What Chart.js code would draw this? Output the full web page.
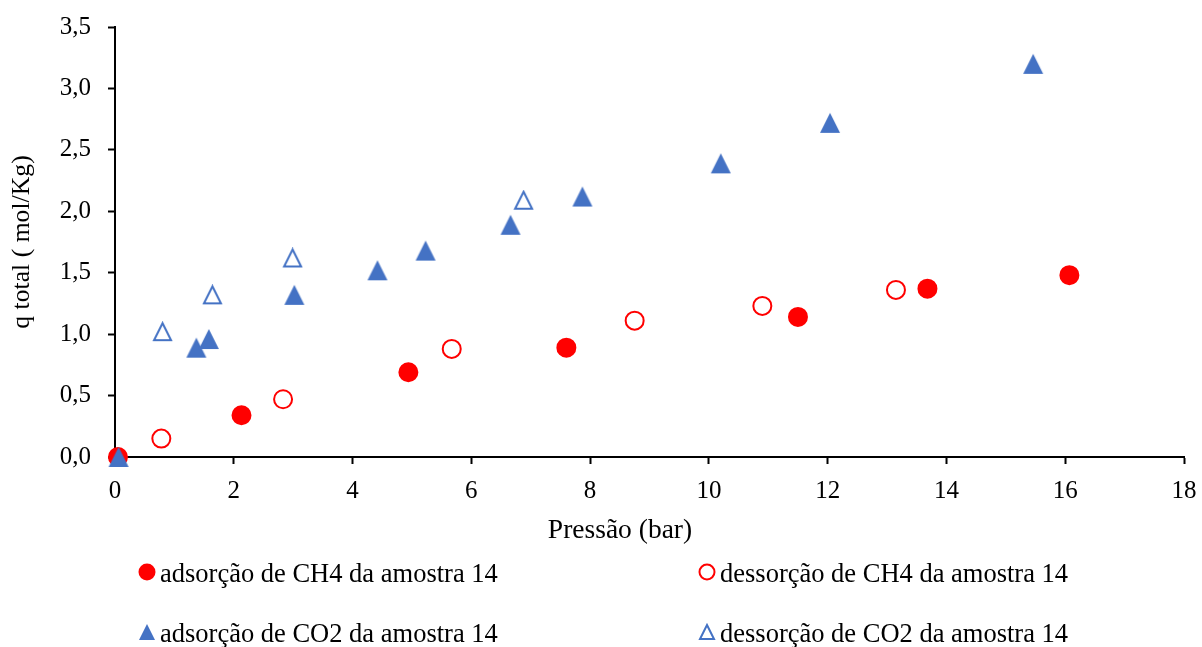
<!DOCTYPE html>
<html>
<head>
<meta charset="utf-8">
<script src="https://cdn.jsdelivr.net/npm/chart.js@4.4.1/dist/chart.umd.min.js"></script>
<style>
  html, body { margin: 0; padding: 0; background: #fff; }
  #wrap { position: relative; width: 1202px; height: 647px; }
</style>
</head>
<body>
<div id="wrap"><canvas id="chart"></canvas></div>
<script>
// Isotherm data: pressure (bar) and total uptake (mol/Kg)
const ch4AdsP = [0.05, 2.13, 4.94, 7.60, 11.50, 13.68, 16.07];
const ch4AdsQ = [0.00, 0.34, 0.69, 0.89, 1.14, 1.37, 1.48];

const ch4DesP = [0.78, 2.83, 5.67, 8.75, 10.90, 13.15];
const ch4DesQ = [0.15, 0.47, 0.88, 1.11, 1.23, 1.36];

const co2AdsP = [0.06, 1.37, 1.58, 3.02, 4.42, 5.23, 6.66, 7.87, 10.20, 12.04, 15.46];
const co2AdsQ = [0.00, 0.89, 0.96, 1.32, 1.52, 1.68, 1.89, 2.12, 2.39, 2.72, 3.20];

const co2DesP = [0.80, 1.64, 2.99, 6.88];
const co2DesQ = [1.02, 1.32, 1.62, 2.09];

const seriesNames = [
  'adsorção de CH4 da amostra 14',
  'dessorção de CH4 da amostra 14',
  'adsorção de CO2 da amostra 14',
  'dessorção de CO2 da amostra 14'
];

const xTicks = [0, 2, 4, 6, 8, 10, 12, 14, 16, 18];
const yTicks = [0, 0.5, 1, 1.5, 2, 2.5, 3, 3.5];
const yTickLabels = ['0,0', '0,5', '1,0', '1,5', '2,0', '2,5', '3,0', '3,5'];

const xTitle = 'Pressão (bar)';
const yTitle = 'q total ( mol/Kg)';

const RED = '#FF0000';
const BLUE = '#4472C4';
const SERIF = '"Liberation Serif", "Times New Roman", serif';

function pairs(xs, ys) {
  return xs.map((x, i) => ({ x: x, y: ys[i] }));
}

// Triangle markers drawn into small canvases so the shape is centred on its box
function triangleMarker(size, color, filled) {
  const c = document.createElement('canvas');
  c.width = size + 2;
  c.height = size + 2;
  const g = c.getContext('2d');
  const m = filled ? 1 : 2;
  g.beginPath();
  g.moveTo(c.width / 2, m);
  g.lineTo(c.width - m, c.height - m);
  g.lineTo(m, c.height - m);
  g.closePath();
  if (filled) {
    g.fillStyle = color;
    g.fill();
  } else {
    g.lineWidth = 2;
    g.lineJoin = 'miter';
    g.strokeStyle = color;
    g.stroke();
  }
  return c;
}

const triFilled = triangleMarker(20, BLUE, true);
const triOpen = triangleMarker(19, BLUE, false);
const triFilledSmall = triangleMarker(16, BLUE, true);
const triOpenSmall = triangleMarker(16, BLUE, false);

const datasets = [
  {
    label: seriesNames[0],
    data: pairs(ch4AdsP, ch4AdsQ),
    pointStyle: 'circle',
    pointRadius: 9,
    pointBorderWidth: 2,
    pointBackgroundColor: RED,
    pointBorderColor: RED,
    order: 4,
    clip: false
  },
  {
    label: seriesNames[1],
    data: pairs(ch4DesP, ch4DesQ),
    pointStyle: 'circle',
    pointRadius: 9,
    pointBorderWidth: 2,
    pointBackgroundColor: 'rgba(255,255,255,0)',
    pointBorderColor: RED,
    order: 3,
    clip: false
  },
  {
    label: seriesNames[2],
    data: pairs(co2AdsP, co2AdsQ),
    pointStyle: triFilled,
    pointRadius: 10,
    pointBackgroundColor: BLUE,
    pointBorderColor: BLUE,
    order: 1,
    clip: false
  },
  {
    label: seriesNames[3],
    data: pairs(co2DesP, co2DesQ),
    pointStyle: triOpen,
    pointRadius: 10,
    pointBackgroundColor: 'rgba(255,255,255,0)',
    pointBorderColor: BLUE,
    order: 2,
    clip: false
  }
];

// Legend markers used in the 2x2 key under the plot
const legendMarkers = [
  { type: 'circle', fill: RED, stroke: RED },
  { type: 'circle', fill: null, stroke: RED },
  { type: 'image', img: triFilledSmall },
  { type: 'image', img: triOpenSmall }
];

const keyAndTitle = {
  id: 'keyAndTitle',
  afterDraw(chart) {
    const ctx = chart.ctx;
    ctx.save();

    // x-axis title
    ctx.fillStyle = '#000';
    ctx.font = '27.5px ' + SERIF;
    ctx.textAlign = 'center';
    ctx.textBaseline = 'alphabetic';
    ctx.fillText(xTitle, 620, 538);

    // two-column key
    const markerX = [147, 707];
    const textX = [160, 720];
    const rowY = [572, 632];
    const baseY = [582, 642];
    ctx.font = '26.5px ' + SERIF;
    ctx.textAlign = 'left';
    chart.data.datasets.forEach((ds, i) => {
      const col = i % 2;
      const row = Math.floor(i / 2);
      const mk = legendMarkers[i];
      const cx = markerX[col];
      const cy = rowY[row];
      if (mk.type === 'circle') {
        ctx.beginPath();
        if (mk.fill) {
          ctx.arc(cx, cy, 8.5, 0, Math.PI * 2);
          ctx.fillStyle = mk.fill;
          ctx.fill();
        } else {
          ctx.arc(cx, cy, 7.5, 0, Math.PI * 2);
          ctx.lineWidth = 2;
          ctx.strokeStyle = mk.stroke;
          ctx.stroke();
        }
      } else {
        ctx.drawImage(mk.img, cx - mk.img.width / 2, cy - mk.img.height / 2);
      }
      ctx.fillStyle = '#000';
      ctx.fillText(ds.label, textX[col], baseY[row]);
    });
    ctx.restore();
  }
};

new Chart(document.getElementById('chart'), {
  type: 'scatter',
  data: { datasets: datasets },
  plugins: [keyAndTitle],
  options: {
    responsive: true,
    maintainAspectRatio: false,
    animation: false,
    events: [],
    layout: { padding: { left: 0, top: 27, right: 18, bottom: 130 } },
    plugins: {
      legend: { display: false },
      tooltip: { enabled: false }
    },
    scales: {
      x: {
        type: 'linear',
        min: 0,
        max: 18,
        afterBuildTicks: s => { s.ticks = xTicks.map(v => ({ value: v })); },
        afterFit: s => {
          s.height = 60;
          s.paddingLeft = 12;
          s.paddingRight = 12;
        },
        grid: {
          display: true,
          drawOnChartArea: false,
          drawTicks: true,
          tickLength: 7,
          tickWidth: 2,
          tickColor: '#000'
        },
        border: { display: true, color: '#000', width: 2 },
        ticks: {
          color: '#000',
          padding: 12,
          maxRotation: 0,
          font: { family: SERIF, size: 25 }
        },
        title: { display: false }
      },
      y: {
        type: 'linear',
        min: 0,
        max: 3.5,
        afterBuildTicks: s => { s.ticks = yTicks.map(v => ({ value: v })); },
        afterFit: s => {
          s.width = 115;
          s.paddingTop = 15;
          s.paddingBottom = 15;
        },
        grid: {
          display: true,
          drawOnChartArea: false,
          drawTicks: true,
          tickLength: 7,
          tickWidth: 2,
          tickColor: '#000'
        },
        border: { display: true, color: '#000', width: 2 },
        ticks: {
          color: '#000',
          padding: 17,
          font: { family: SERIF, size: 25 },
          callback: (v) => yTickLabels[yTicks.indexOf(v)]
        },
        title: {
          display: true,
          text: yTitle,
          color: '#000',
          font: { family: SERIF, size: 25.7 },
          padding: { top: 7, bottom: 0 }
        }
      }
    }
  }
});
</script>
</body>
</html>
